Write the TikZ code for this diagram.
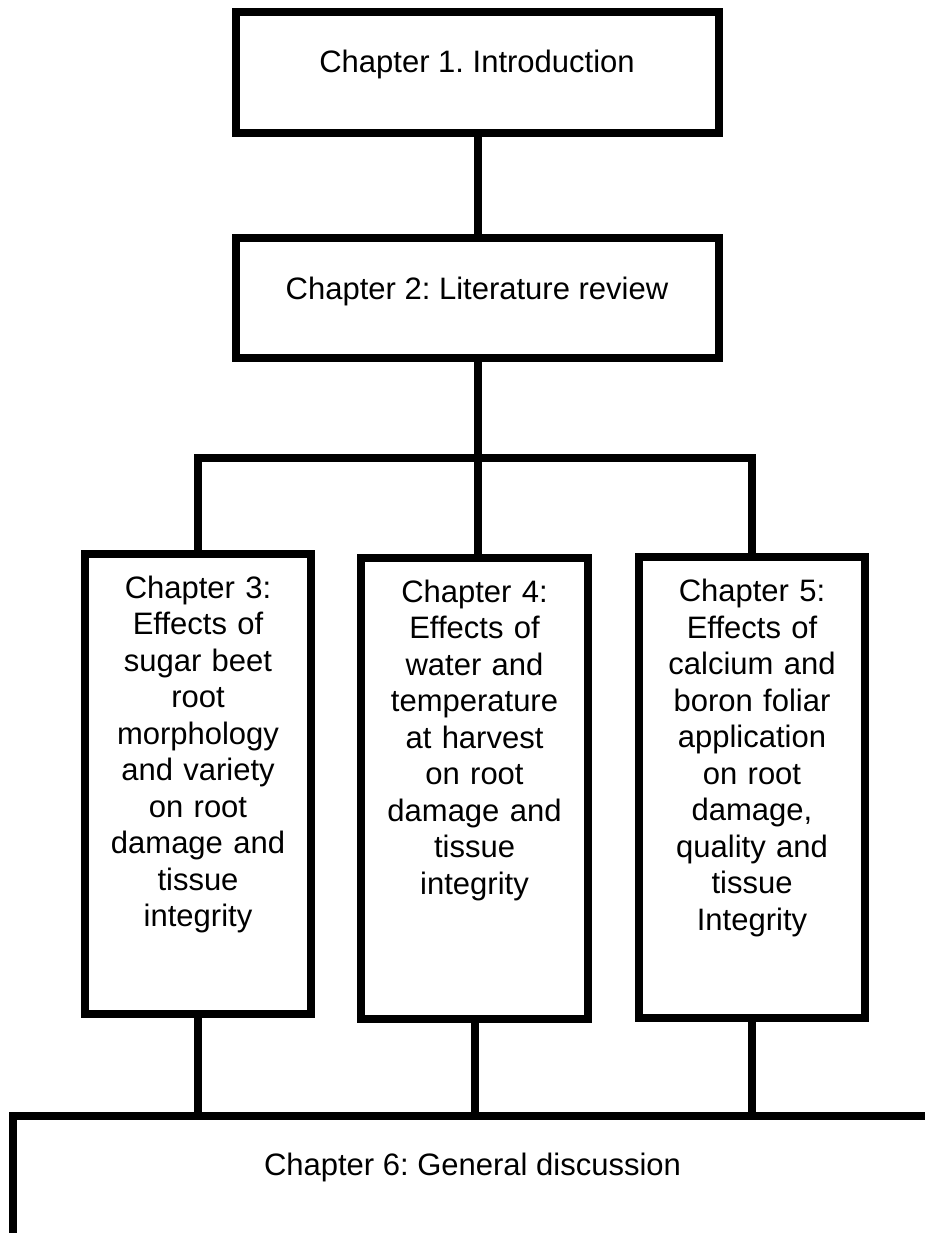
\documentclass[tikz,border=0pt]{standalone}
\usepackage{fontspec}
\setmainfont{Liberation Sans}
\frenchspacing
\begin{document}
\begin{tikzpicture}[x=1pt,y=-1pt,
  box/.style={draw=black, line width=8pt, fill=white, rectangle, inner sep=0pt, outer sep=0pt, line join=miter},
  link/.style={draw=black, line width=8pt, line join=miter},
  txt/.style={font=\fontsize{31}{36.5}\selectfont\frenchspacing, inner sep=0pt, outer sep=0pt, text=black},
  mtxt/.style={txt, text width=220pt, align=center, anchor=base}]
\path[use as bounding box] (0,0) rectangle (925,1233);
\clip (0,0) rectangle (925,1233);
\fill[white] (0,0) rectangle (925,1233);

% boxes (stroke-centre dimensions)
\node[box, minimum width=483pt, minimum height=121pt] (b1) at (477.5,72.5) {};
\node[box, minimum width=483pt, minimum height=120pt] (b2) at (477.5,298) {};
\node[box, minimum width=226pt, minimum height=460pt] (b3) at (198,784) {};
\node[box, minimum width=227pt, minimum height=461pt] (b4) at (474.5,788.5) {};
\node[box, minimum width=226pt, minimum height=461pt] (b5) at (752,787.5) {};
\node[box, minimum width=919pt, minimum height=284pt] (b6) at (472.5,1258) {};

% texts
\node[txt, anchor=base] (t1) at (477,73) {Chapter 1. Introduction};
\node[txt, anchor=base] (t2) at (477,299) {Chapter 2: Literature review};
\node[mtxt] (t3) at (198,598) {Chapter 3:\\Effects of\\sugar beet\\root\\morphology\\and variety\\on root\\damage and\\tissue\\integrity};
\node[mtxt] (t4) at (474.5,602) {Chapter 4:\\Effects of\\water and\\temperature\\at harvest\\on root\\damage and\\tissue\\integrity};
\node[mtxt] (t5) at (752,601.5) {Chapter 5:\\Effects of\\calcium and\\boron foliar\\application\\on root\\damage,\\quality and\\tissue\\Integrity};
\node[txt, anchor=base] (t6) at (472.5,1175) {Chapter 6: General discussion};

% connectors
\coordinate (j) at (477.5,457.5);
\draw[link] (b1.south) -- (b2.north);
\draw[link] (b2.south) -- (j);
\draw[link] (b3.north) |- (j) -| (b5.north);
\draw[link] (j) -- (j |- b4.north);
\draw[link] (b3.south) -- (b3.south |- b6.north);
\draw[link] (b4.south) -- (b4.south |- b6.north);
\draw[link] (b5.south) -- (b5.south |- b6.north);
\end{tikzpicture}
\end{document}
